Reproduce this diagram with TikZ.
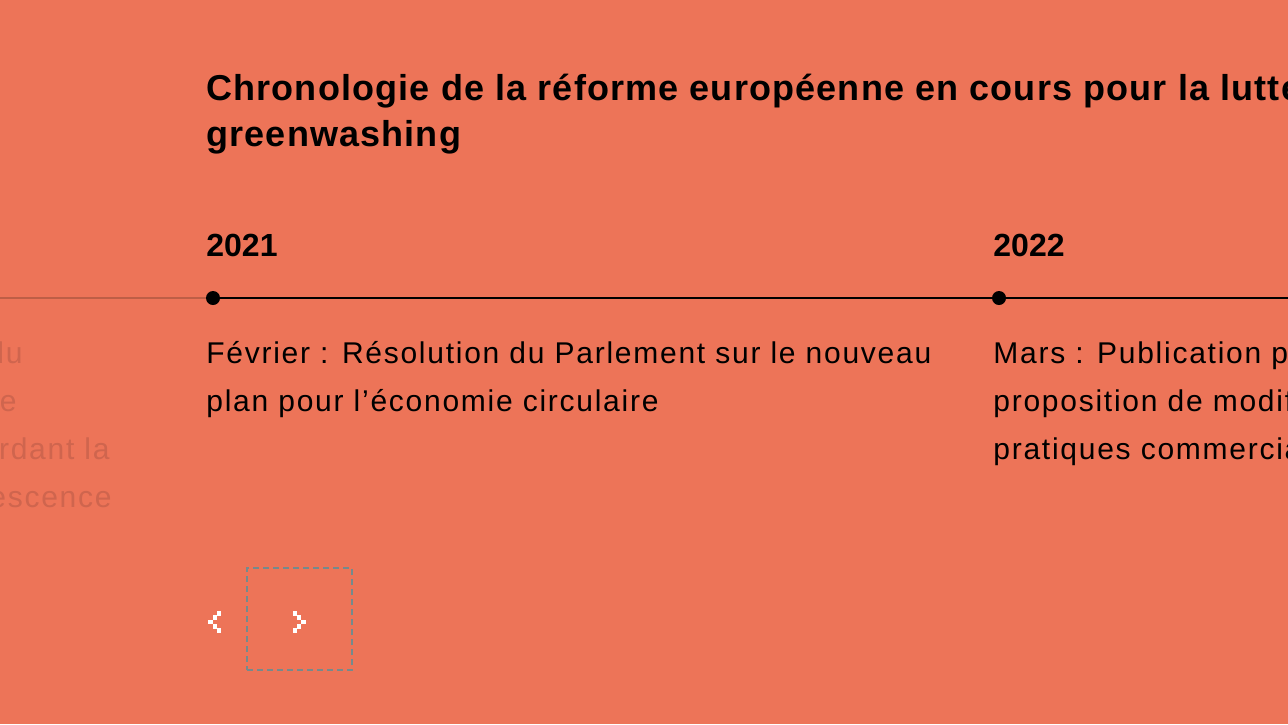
\documentclass[tikz,border=0pt]{standalone}
\usepackage{fontspec}
\setmainfont{Liberation Sans}
\newfontfamily\titlefont[LetterSpace=3.2]{Liberation Sans}
\newfontfamily\bodyfont[LetterSpace=5.8]{Liberation Sans}
\usetikzlibrary{positioning, calc}
\definecolor{clrBg}  {RGB}{237,116, 88}
\definecolor{clrFd}  {RGB}{207,101, 78}
\definecolor{clrFdLn}{RGB}{190, 94, 70}
\definecolor{clrNav} {RGB}{118,138,140}
\tikzset{
  titlelbl/.style={anchor=base west, inner sep=0pt, font=\titlefont\fontsize{18}{23}\selectfont\bfseries,
    align=left, text=black},
  yearlbl/.style={anchor=base west, inner sep=0pt, font=\fontsize{16}{20}\selectfont\bfseries, text=black},
  itemlbl/.style={anchor=base west, inner sep=0pt, font=\bodyfont\fontsize{15}{24}\selectfont,
    align=left, text=black},
  fadedlbl/.style={anchor=base east, inner sep=0pt, font=\bodyfont\fontsize{15}{24}\selectfont, text=clrFd},
  yeardot/.style={circle, fill=black, inner sep=0pt, minimum size=7pt},
  navbox/.style={draw=clrNav, dashed, dash pattern=on 3pt off 2pt, line width=0.6pt,
    minimum width=52.5pt, minimum height=51pt, inner sep=0pt},
  pix/.style={fill=white},
}
\begin{document}
\begin{tikzpicture}[x=0.5pt, y=-0.5pt]
\useasboundingbox (0,0) rectangle (1288,724);
\fill[clrBg] (0,0) rectangle (1288,724);
\clip (0,0) rectangle (1288,724);
\def\xA{206}\def\xB{993}\def\yL{298}
% title (base = last line)
\node[titlelbl] (title) at (\xA, 146) {Chronologie de la réforme européenne en cours pour la lutte contre le\\greenwashing};
% years and timeline
\node[yearlbl] (y21) at (\xA, 256) {2021};
\node[yearlbl] (y22) at (\xB, 256) {2022};
\node[yeardot] (d21) at (213, \yL) {};
\node[yeardot] (d22) at (999, \yL) {};
\coordinate (lend) at (0, \yL);
\coordinate (rend) at (1288, \yL);
\draw[clrFdLn, line width=0.7pt] (lend) -- (d21);
\draw[black, line width=1pt] (d21) -- (d22) -- (rend);
% entries
\node[itemlbl] (e21) at (\xA, 411) {Février : Résolution du Parlement sur le nouveau\\plan pour l’économie circulaire};
\node[itemlbl] (e22) at (\xB, 459) {Mars : Publication par la Commission d’une\\proposition de modification de la directive\\pratiques commerciales déloyales};
% previous entry, cut by the edge
\node[fadedlbl] (f1) at (23, 363) {du};
\node[fadedlbl] (f2) at (17, 411) {e};
\node[fadedlbl] (f3) at (110, 459) {rdant la};
\node[fadedlbl] (f4) at (112, 507) {escence};
% navigation
\coordinate (prev) at (215, 622);
\node[navbox] (next) at (299.5, 619) {};
\coordinate (nxt) at (299, 622);
\foreach \dx/\dy in {4/-8.7, 0/-4.3, -4.3/0, 0/4.3, 4/8.7}
{\fill[pix] ($(prev)+(\dx-2.3,\dy-2.3)$) rectangle ++(4.6,4.6);
 \fill[pix] ($(nxt)+(-\dx-2.3,\dy-2.3)$) rectangle ++(4.6,4.6);}
\end{tikzpicture}
\end{document}
